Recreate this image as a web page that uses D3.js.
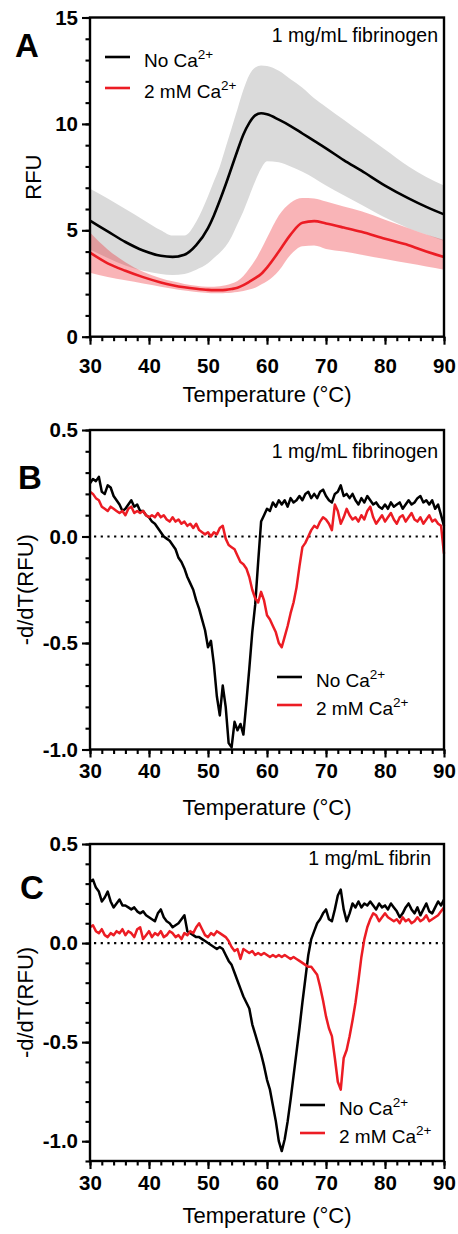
<!DOCTYPE html>
<html>
<head>
<meta charset="utf-8">
<script src="https://cdn.jsdelivr.net/npm/d3@7"></script>
<style>
  body { margin: 0; background: #fff; }
  svg { display: block; font-family: Arial, "Liberation Sans", Helvetica, sans-serif; }
</style>
</head>
<body>
<svg id="chart"></svg>
<script>
// ---- data ----
// panel A: RFU melt curves (mean line + shaded band)
let tempA = [30, 33, 36, 39, 42, 44, 46, 48, 50, 51, 52, 53, 54, 55, 56, 57, 58, 59, 60, 62, 64, 66, 68, 70, 73, 76, 80, 84, 87, 90]
let noCaMean  = [5.45, 4.95, 4.45, 4.05, 3.8, 3.75, 3.85, 4.3, 5.1, 5.7, 6.4, 7.15, 7.95, 8.75, 9.5, 10.05, 10.4, 10.5, 10.45, 10.2, 9.9, 9.55, 9.2, 8.85, 8.3, 7.8, 7.1, 6.5, 6.1, 5.75]
let noCaUpper = [6.95, 6.5, 6.0, 5.5, 5.0, 4.75, 4.75, 5.4, 6.6, 7.3, 8.0, 8.9, 9.8, 10.7, 11.6, 12.3, 12.65, 12.75, 12.72, 12.5, 12.1, 11.7, 11.2, 10.8, 10.2, 9.6, 8.8, 8.0, 7.5, 7.1]
let noCaLower = [4.1, 3.7, 3.35, 3.1, 2.95, 2.9, 2.95, 3.15, 3.45, 3.7, 3.95, 4.25, 4.7, 5.3, 5.9, 6.6, 7.3, 7.9, 8.25, 8.2, 8.0, 7.75, 7.45, 7.1, 6.65, 6.2, 5.6, 5.1, 4.8, 4.5]
let caMean  = [3.95, 3.45, 3.1, 2.8, 2.55, 2.42, 2.32, 2.25, 2.2, 2.19, 2.19, 2.2, 2.24, 2.3, 2.42, 2.58, 2.75, 2.95, 3.25, 4.0, 4.8, 5.35, 5.43, 5.32, 5.13, 4.93, 4.6, 4.3, 4.0, 3.75]
let caUpper = [4.9, 4.1, 3.5, 3.05, 2.75, 2.6, 2.48, 2.4, 2.35, 2.35, 2.37, 2.42, 2.5, 2.62, 2.85, 3.2, 3.6, 4.1, 4.65, 5.7, 6.3, 6.52, 6.5, 6.35, 6.12, 5.9, 5.5, 5.1, 4.8, 4.55]
let caLower = [3.0, 2.8, 2.65, 2.5, 2.35, 2.25, 2.17, 2.1, 2.05, 2.04, 2.04, 2.05, 2.07, 2.1, 2.15, 2.22, 2.3, 2.45, 2.6, 3.1, 3.85, 4.25, 4.28, 4.12, 4.0, 3.85, 3.65, 3.45, 3.3, 3.15]

// panels B and C: -d/dT(RFU), one value every 0.5 °C from 30 to 90
let tempD = d3.range(30, 90.001, 0.5)
let fgNoCa = [
  0.25, 0.27, 0.26, 0.28, 0.21, 0.20, 0.24, 0.23, 0.19, 0.17,
  0.15, 0.12, 0.13, 0.15, 0.17, 0.14, 0.15, 0.12, 0.12, 0.10,
  0.09, 0.07, 0.06, 0.04, 0.02, 0.00, -0.01, -0.02, -0.04, -0.06,
  -0.10, -0.12, -0.15, -0.19, -0.22, -0.25, -0.30, -0.34, -0.39, -0.44,
  -0.52, -0.49, -0.60, -0.75, -0.84, -0.70, -0.80, -0.97, -0.99, -0.87,
  -0.91, -0.88, -0.93, -0.78, -0.62, -0.45, -0.32, -0.12, 0.07, 0.10,
  0.13, 0.12, 0.16, 0.14, 0.17, 0.15, 0.17, 0.14, 0.18, 0.16,
  0.17, 0.19, 0.17, 0.20, 0.21, 0.18, 0.20, 0.18, 0.21, 0.22,
  0.19, 0.17, 0.16, 0.20, 0.21, 0.24, 0.19, 0.20, 0.18, 0.20,
  0.17, 0.15, 0.18, 0.16, 0.19, 0.17, 0.15, 0.16, 0.14, 0.13,
  0.15, 0.13, 0.16, 0.14, 0.15, 0.16, 0.13, 0.15, 0.17, 0.15,
  0.16, 0.18, 0.19, 0.16, 0.17, 0.15, 0.17, 0.13, 0.15, 0.10,
  0.05]
let fgCa = [
  0.21, 0.20, 0.18, 0.17, 0.14, 0.13, 0.12, 0.14, 0.13, 0.12,
  0.11, 0.12, 0.10, 0.13, 0.14, 0.11, 0.12, 0.11, 0.12, 0.10,
  0.09, 0.10, 0.09, 0.11, 0.09, 0.10, 0.08, 0.07, 0.09, 0.07,
  0.08, 0.06, 0.07, 0.05, 0.06, 0.04, 0.06, 0.03, 0.02, 0.01,
  0.02, 0.00, 0.02, 0.01, 0.04, 0.05, -0.01, -0.04, -0.05, -0.06,
  -0.09, -0.12, -0.13, -0.15, -0.19, -0.25, -0.29, -0.31, -0.26, -0.30,
  -0.37, -0.39, -0.42, -0.45, -0.50, -0.52, -0.47, -0.42, -0.36, -0.31,
  -0.24, -0.14, -0.05, -0.03, 0.00, 0.03, 0.05, 0.04, 0.07, 0.09,
  0.08, 0.06, 0.03, 0.15, 0.12, 0.06, 0.09, 0.13, 0.10, 0.08,
  0.09, 0.07, 0.10, 0.08, 0.12, 0.14, 0.09, 0.06, 0.08, 0.10,
  0.07, 0.09, 0.11, 0.08, 0.06, 0.09, 0.10, 0.07, 0.09, 0.11,
  0.08, 0.07, 0.09, 0.06, 0.08, 0.10, 0.07, 0.08, 0.06, 0.05,
  -0.08]
let fbNoCa = [
  0.31, 0.32, 0.28, 0.26, 0.21, 0.23, 0.26, 0.21, 0.18, 0.20,
  0.22, 0.19, 0.19, 0.18, 0.17, 0.18, 0.16, 0.15, 0.16, 0.14,
  0.13, 0.12, 0.11, 0.15, 0.17, 0.13, 0.11, 0.10, 0.08, 0.09,
  0.10, 0.12, 0.14, 0.06, 0.05, 0.04, 0.03, 0.03, 0.02, 0.01,
  0.00, -0.01, -0.02, -0.03, -0.02, -0.03, -0.06, -0.09, -0.11, -0.15,
  -0.19, -0.23, -0.27, -0.30, -0.33, -0.41, -0.46, -0.51, -0.56, -0.62,
  -0.69, -0.74, -0.82, -0.90, -1.00, -1.05, -0.99, -0.90, -0.79, -0.67,
  -0.55, -0.43, -0.30, -0.18, -0.06, 0.02, 0.06, 0.10, 0.12, 0.15,
  0.17, 0.12, 0.11, 0.17, 0.24, 0.27, 0.17, 0.11, 0.15, 0.20,
  0.18, 0.21, 0.18, 0.20, 0.19, 0.21, 0.19, 0.17, 0.20, 0.18,
  0.19, 0.17, 0.20, 0.18, 0.16, 0.13, 0.15, 0.18, 0.20, 0.17,
  0.15, 0.18, 0.14, 0.17, 0.20, 0.16, 0.15, 0.18, 0.21, 0.19,
  0.22]
let fbCa = [
  0.08, 0.09, 0.06, 0.05, 0.07, 0.04, 0.03, 0.05, 0.04, 0.06,
  0.05, 0.07, 0.04, 0.06, 0.05, 0.03, 0.07, 0.08, 0.02, 0.04,
  0.06, 0.03, 0.05, 0.04, 0.06, 0.03, 0.04, 0.06, 0.05, 0.03,
  0.04, 0.02, 0.05, 0.04, 0.06, 0.05, 0.08, 0.10, 0.07, 0.04,
  0.03, 0.05, 0.04, 0.06, 0.05, 0.04, 0.03, 0.01, -0.02, -0.04,
  -0.03, -0.08, -0.03, -0.04, -0.05, -0.04, -0.06, -0.05, -0.06, -0.05,
  -0.06, -0.07, -0.06, -0.07, -0.06, -0.07, -0.06, -0.07, -0.08, -0.07,
  -0.08, -0.09, -0.10, -0.11, -0.12, -0.12, -0.14, -0.16, -0.22, -0.29,
  -0.37, -0.43, -0.47, -0.58, -0.70, -0.74, -0.58, -0.54, -0.47, -0.39,
  -0.30, -0.19, -0.07, 0.02, 0.08, 0.12, 0.15, 0.14, 0.11, 0.13,
  0.15, 0.13, 0.12, 0.11, 0.12, 0.10, 0.13, 0.11, 0.12, 0.10,
  0.11, 0.13, 0.11, 0.12, 0.14, 0.11, 0.12, 0.13, 0.14, 0.16,
  0.18]

let xTicks = [30, 40, 50, 60, 70, 80, 90]
let xMinorTicks = d3.range(30, 91, 2)
let yTicksA = [0, 5, 10, 15]
let yTicksD = [-1.0, -0.5, 0.0, 0.5]
let seriesNames = ['No Ca', '2 mM Ca']

// ---- layout ----
let width = 458
let height = 1234
let left = 90
let right = 444
let black = '#000'
let red = '#ec1c24'

let svg = d3.select('#chart').attr('width', width).attr('height', height)
svg.append('rect').attr('width', width).attr('height', height).attr('fill', '#fff')

let xScale = d3.scaleLinear().domain([30, 90]).range([left, right])

let drawAxes = (p, yScale, yMajor, yMinor, yFmt) => {
    let g = svg.append('g')
    // x minor + major
    let xm = g.append('g').attr('transform', 'translate(0,' + p.bottom + ')')
        .call(d3.axisBottom(xScale).tickValues(xMinorTicks).tickSize(4.5).tickFormat(''))
    xm.select('.domain').remove()
    let xa = g.append('g').attr('transform', 'translate(0,' + p.bottom + ')')
        .call(d3.axisBottom(xScale).tickValues(xTicks).tickSize(8).tickPadding(p.xPad).tickFormat(d3.format('d')))
    xa.select('.domain').remove()
    // y minor + major
    let ym = g.append('g').attr('transform', 'translate(' + left + ',0)')
        .call(d3.axisLeft(yScale).tickValues(yMinor).tickSize(4.5).tickFormat(''))
    ym.select('.domain').remove()
    let ya = g.append('g').attr('transform', 'translate(' + left + ',0)')
        .call(d3.axisLeft(yScale).tickValues(yMajor).tickSize(8).tickPadding(4).tickFormat(yFmt))
    ya.select('.domain').remove()

    g.selectAll('.tick line').attr('stroke', black).attr('stroke-width', 2.1)
    g.selectAll('.tick text')
        .attr('fill', black)
        .style('font-size', '20.5px')
        .style('font-weight', 'bold')
        .style('font-family', 'Arial, "Liberation Sans", sans-serif')
}

let drawFrame = (p) => {
    svg.append('rect')
        .attr('x', left).attr('y', p.top)
        .attr('width', right - left).attr('height', p.bottom - p.top)
        .attr('fill', 'none').attr('stroke', black).attr('stroke-width', 2.4)
}

let drawLabels = (p) => {
    svg.append('text')
        .attr('x', p.letterX).attr('y', p.letterY)
        .style('font-size', '33px').style('font-weight', 'bold')
        .text(p.letter)
    svg.append('text')
        .attr('x', (left + right) / 2).attr('y', p.xTitleY)
        .attr('text-anchor', 'middle')
        .style('font-size', '22px')
        .text('Temperature (°C)')
    svg.append('text')
        .attr('transform', 'translate(' + p.yTitleX + ',' + (p.top + p.bottom) / 2 + ') rotate(-90)')
        .attr('text-anchor', 'middle')
        .style('font-size', '22px')
        .text(p.yTitle)
    svg.append('text')
        .attr('x', p.noteX).attr('y', p.noteY)
        .attr('text-anchor', 'end')
        .style('font-size', '19.5px')
        .text(p.note)
}

let drawLegend = (p) => {
    let colors = [black, red]
    seriesNames.forEach((name, i) => {
        let y = p.legY + i * p.legGap
        svg.append('line')
            .attr('x1', p.legX).attr('x2', p.legX + 25)
            .attr('y1', y).attr('y2', y)
            .attr('stroke', colors[i]).attr('stroke-width', 2.6)
        let t = svg.append('text')
            .attr('x', p.legX + 39).attr('y', y + 10)
            .style('font-size', '19px')
        t.append('tspan').text(name)
        t.append('tspan').attr('dy', -8).style('font-size', '13.5px').text('2+')
    })
}

// ---- panel A ----
let pA = {top: 17.5, bottom: 336.7, xPad: 13.5, letter: 'A', letterX: 15, letterY: 57,
          xTitleY: 402, yTitleX: 41, yTitle: 'RFU', note: '1 mg/mL fibrinogen', noteX: 438, noteY: 42,
          legX: 105, legY: 57, legGap: 31}
let yA = d3.scaleLinear().domain([0, 15]).range([pA.bottom, pA.top])

let band = (lo, hi) => d3.area()
    .x((d, i) => xScale(tempA[i]))
    .y0((d, i) => yA(lo[i]))
    .y1((d, i) => yA(hi[i]))
    .curve(d3.curveMonotoneX)
let meanLine = d3.line()
    .x((d, i) => xScale(tempA[i]))
    .y(d => yA(d))
    .curve(d3.curveMonotoneX)

svg.append('path').datum(tempA).attr('d', band(noCaLower, noCaUpper)).attr('fill', '#dadada')
svg.append('path').datum(tempA).attr('d', band(caLower, caUpper)).attr('fill', red).attr('fill-opacity', 0.33)
svg.append('path').datum(noCaMean).attr('d', meanLine).attr('fill', 'none').attr('stroke', black).attr('stroke-width', 2.6)
svg.append('path').datum(caMean).attr('d', meanLine).attr('fill', 'none').attr('stroke', red).attr('stroke-width', 2.6)

drawAxes(pA, yA, yTicksA, d3.range(0, 15.5, 1), d3.format('d'))
drawFrame(pA)
drawLabels(pA)
drawLegend(pA)

// ---- panels B and C ----
let drawDeriv = (p, s1, s2) => {
    let y = d3.scaleLinear().domain(p.yDomain).range([p.bottom, p.top])
    let line = d3.line()
        .x((d, i) => xScale(tempD[i]))
        .y(d => y(d))

    svg.append('line')
        .attr('x1', xScale(30) + 4).attr('x2', xScale(90))
        .attr('y1', y(0)).attr('y2', y(0))
        .attr('stroke', black).attr('stroke-width', 2.2)
        .attr('stroke-dasharray', '2.2,4.5')

    svg.append('path').datum(s1).attr('d', line).attr('fill', 'none').attr('stroke', black).attr('stroke-width', 2.5).attr('stroke-linejoin', 'round')
    svg.append('path').datum(s2).attr('d', line).attr('fill', 'none').attr('stroke', red).attr('stroke-width', 2.5).attr('stroke-linejoin', 'round')

    let minor = d3.range(Math.round(p.yDomain[0] * 10), 6, 1).map(v => v / 10)
    drawAxes(p, y, yTicksD, minor, v => v.toFixed(1))
    drawFrame(p)
    drawLabels(p)
    drawLegend(p)
}

let pB = {top: 430, bottom: 749.5, yDomain: [-1.0, 0.5], xPad: 5.8, letter: 'B', letterX: 18, letterY: 489,
          xTitleY: 815, yTitleX: 33, yTitle: '-d/dT(RFU)', note: '1 mg/mL fibrinogen', noteX: 438, noteY: 458,
          legX: 277, legY: 677, legGap: 28}
let pC = {top: 844, bottom: 1161, yDomain: [-1.1, 0.5], xPad: 6.5, letter: 'C', letterX: 20, letterY: 899,
          xTitleY: 1223, yTitleX: 33, yTitle: '-d/dT(RFU)', note: '1 mg/mL fibrin', noteX: 431, noteY: 865,
          legX: 300, legY: 1105, legGap: 28}

drawDeriv(pB, fgNoCa, fgCa)
drawDeriv(pC, fbNoCa, fbCa)
</script>
</body>
</html>
